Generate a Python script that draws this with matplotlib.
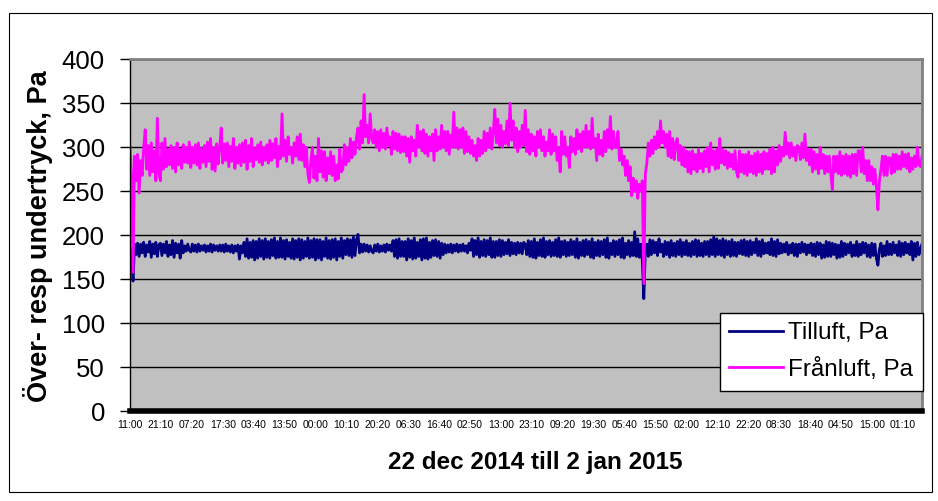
import matplotlib.pyplot as plt
from matplotlib.patches import Rectangle

# half-hourly readings from 22 dec 2014 11:00 (Pa)
franluft = [
    300, 270, 158, 290, 262, 292, 248, 285, 268, 300, 320, 275, 302, 268, 305, 272, 296, 262, 333, 270,
    262, 305, 275, 310, 278, 298, 280, 302, 276, 300, 272, 305, 280, 298, 276, 303, 283, 300, 282, 306,
    277, 300, 282, 303, 280, 305, 276, 299, 283, 302, 278, 306, 284, 310, 275, 300, 273, 304, 281, 300,
    322, 282, 304, 285, 305, 278, 301, 284, 310, 276, 300, 282, 303, 279, 305, 283, 308, 275, 302, 284,
    310, 278, 299, 286, 303, 283, 306, 280, 300, 285, 303, 282, 308, 285, 304, 288, 310, 278, 301, 287,
    338, 290, 308, 284, 312, 292, 300, 282, 305, 290, 312, 286, 315, 285, 303, 278, 300, 270, 260, 285,
    300, 265, 290, 262, 310, 272, 296, 266, 295, 262, 288, 270, 295, 268, 290, 262, 280, 264, 298, 272,
    275, 303, 280, 300, 284, 310, 288, 306, 292, 312, 322, 298, 330, 305, 360, 312, 325, 305, 338, 310,
    305, 320, 300, 318, 296, 320, 300, 316, 298, 322, 302, 312, 292, 318, 298, 316, 296, 315, 294, 312,
    295, 312, 290, 310, 283, 312, 296, 308, 290, 325, 300, 318, 296, 320, 293, 315, 290, 312, 296, 315,
    285, 320, 296, 312, 298, 325, 300, 318, 296, 318, 292, 314, 300, 340, 300, 322, 298, 320, 300, 322,
    293, 318, 295, 312, 293, 308, 290, 302, 285, 310, 290, 308, 293, 318, 296, 316, 300, 322, 298, 318,
    343, 305, 332, 302, 325, 300, 318, 304, 330, 302, 350, 308, 330, 300, 322, 295, 318, 300, 325, 302,
    342, 295, 320, 292, 315, 296, 312, 290, 318, 300, 320, 296, 312, 290, 306, 296, 320, 292, 315, 296,
    312, 285, 300, 272, 318, 292, 312, 290, 300, 277, 312, 295, 310, 292, 320, 298, 315, 295, 318, 300,
    325, 300, 318, 298, 333, 300, 310, 285, 315, 292, 308, 290, 318, 295, 320, 300, 335, 298, 318, 300,
    300, 318, 285, 298, 280, 290, 268, 285, 262, 278, 245, 265, 250, 262, 242, 258, 250, 262, 145, 270,
    282, 305, 290, 308, 293, 312, 298, 318, 300, 330, 305, 318, 300, 315, 290, 318, 288, 310, 286, 305,
    310, 285, 302, 280, 300, 278, 296, 272, 295, 270, 296, 275, 292, 272, 298, 276, 293, 272, 296, 278,
    300, 272, 305, 280, 296, 275, 298, 276, 310, 282, 298, 280, 296, 276, 294, 278, 292, 275, 296, 272,
    266, 296, 272, 292, 270, 292, 268, 295, 272, 290, 270, 293, 268, 295, 272, 292, 270, 295, 275, 293,
    275, 298, 270, 300, 272, 296, 280, 302, 284, 300, 290, 317, 292, 305, 288, 305, 290, 300, 285, 302,
    300, 286, 305, 288, 315, 285, 298, 280, 298, 272, 295, 275, 292, 270, 300, 276, 292, 270, 290, 272,
    290, 270, 252, 290, 272, 290, 270, 295, 268, 290, 270, 292, 268, 290, 266, 292, 270, 292, 268, 296,
    296, 272, 300, 270, 285, 262, 285, 262, 278, 258, 275, 255, 229, 262, 275, 290, 268, 290, 268, 288,
    288, 270, 292, 272, 292, 275, 290, 275, 295, 278, 292, 276, 293, 272, 288, 275, 290, 278, 300, 280,
    278, 290,
]

tilluft = [
    186, 180, 148, 190, 178, 191, 176, 190, 180, 192, 176, 189, 181, 193, 175, 190, 179, 192, 176, 189,
    191, 177, 190, 180, 193, 176, 189, 178, 194, 175, 191, 180, 190, 174, 194, 180, 188, 182, 190, 183,
    181, 190, 182, 189, 181, 190, 182, 188, 183, 189, 181, 188, 182, 190, 181, 189, 183, 188, 182, 189,
    182, 189, 181, 190, 182, 188, 181, 189, 180, 188, 182, 189, 173, 188, 180, 192, 176, 196, 174, 192,
    175, 194, 172, 193, 174, 196, 176, 194, 173, 196, 175, 193, 174, 195, 177, 197, 174, 193, 175, 197,
    175, 194, 173, 195, 176, 192, 174, 196, 173, 194, 175, 196, 172, 195, 174, 193, 176, 197, 174, 194,
    175, 196, 172, 195, 174, 195, 172, 193, 176, 197, 174, 194, 173, 195, 175, 196, 172, 193, 176, 197,
    174, 194, 178, 196, 177, 195, 175, 198, 177, 195, 201, 180, 190, 181, 190, 182, 189, 181, 188, 182,
    180, 189, 182, 190, 181, 188, 182, 189, 181, 190, 183, 189, 182, 194, 176, 195, 174, 196, 176, 193,
    176, 193, 172, 196, 175, 194, 173, 197, 174, 192, 176, 195, 172, 196, 174, 197, 173, 192, 175, 194,
    177, 195, 176, 193, 174, 191, 178, 190, 180, 189, 181, 190, 180, 189, 182, 190, 181, 189, 182, 190,
    182, 188, 180, 191, 183, 196, 176, 194, 178, 197, 175, 193, 177, 195, 176, 194, 178, 197, 175, 193,
    175, 193, 177, 195, 176, 194, 178, 192, 179, 195, 177, 192, 179, 191, 178, 192, 180, 191, 179, 192,
    190, 178, 194, 176, 193, 175, 196, 174, 192, 177, 195, 176, 197, 175, 193, 178, 194, 176, 192, 177,
    195, 176, 197, 175, 193, 178, 194, 176, 192, 177, 195, 178, 193, 175, 196, 174, 192, 177, 194, 176,
    195, 178, 193, 175, 196, 174, 192, 177, 194, 176, 193, 178, 195, 175, 197, 174, 191, 178, 194, 176,
    193, 178, 195, 175, 197, 174, 191, 178, 194, 176, 192, 177, 204, 176, 196, 175, 190, 172, 128, 182,
    190, 176, 195, 178, 194, 180, 192, 177, 196, 181, 190, 176, 193, 178, 192, 175, 194, 177, 191, 176,
    193, 178, 195, 176, 192, 178, 194, 177, 191, 176, 193, 178, 195, 176, 194, 177, 191, 176, 193, 178,
    193, 176, 195, 178, 198, 176, 196, 178, 194, 177, 196, 175, 194, 178, 193, 176, 195, 177, 192, 176,
    192, 179, 194, 178, 195, 177, 193, 176, 194, 178, 192, 180, 196, 177, 193, 176, 195, 179, 191, 180,
    192, 178, 196, 177, 193, 176, 195, 179, 191, 180, 190, 181, 192, 178, 189, 180, 191, 177, 190, 176,
    190, 180, 192, 181, 190, 178, 189, 180, 191, 177, 190, 176, 192, 178, 191, 174, 189, 175, 193, 176,
    192, 176, 191, 178, 190, 174, 189, 175, 193, 176, 191, 178, 190, 180, 192, 176, 189, 177, 193, 176,
    190, 178, 192, 180, 191, 176, 189, 175, 191, 177, 190, 174, 166, 184, 191, 176, 188, 177, 193, 178,
    190, 178, 192, 180, 189, 177, 193, 176, 191, 178, 192, 180, 190, 178, 193, 172, 191, 176, 192, 178,
    185, 190,
]

tick_labels = ["11:00", "21:10", "07:20", "17:30", "03:40", "13:50", "00:00",
               "10:10", "20:20", "06:30", "16:40", "02:50", "13:00", "23:10",
               "09:20", "19:30", "05:40", "15:50", "02:00", "12:10", "22:20",
               "08:30", "18:40", "04:50", "15:00", "01:10"]

# minutes since start
x_fr = [i * 30 for i in range(len(franluft))]
x_ti = [i * 30 for i in range(len(tilluft))]
tick_pos = [i * 610 for i in range(len(tick_labels))]

plt.rcParams['font.family'] = ['Liberation Sans', 'DejaVu Sans']

fig = plt.figure(figsize=(9.38, 5.01), dpi=100)
fig.patches.append(Rectangle((8.5 / 938, 9 / 501), 923 / 938, 479.5 / 501,
                             transform=fig.transFigure, fill=False,
                             edgecolor='black', linewidth=0.8))

ax = fig.add_axes([130 / 938, 1 - 411.3 / 501, 792 / 938, 352 / 501])
ax.set_facecolor('#C0C0C0')

ax.plot(x_ti, tilluft, color='#000080', linewidth=2, label='Tilluft, Pa')
ax.plot(x_fr, franluft, color='#FF00FF', linewidth=2, label='Frånluft, Pa')

ax.set_ylim(0, 400)
ax.set_xlim(0, 15630)
ax.set_yticks(range(0, 401, 50))
ax.tick_params(axis='y', labelsize=18.5, length=7, width=1, pad=11, color='black')
ax.set_xticks(tick_pos)
ax.set_xticklabels(tick_labels)
ax.tick_params(axis='x', labelsize=7.5, length=0, pad=6)
ax.yaxis.grid(True, color='black', linewidth=1)
ax.set_axisbelow(True)

for side in ['top', 'right']:
    ax.spines[side].set_color('#808080')
    ax.spines[side].set_linewidth(2)
ax.spines['left'].set_color('black')
ax.spines['left'].set_linewidth(1)
ax.spines['bottom'].set_color('black')
ax.spines['bottom'].set_linewidth(4)

fig.text(38 / 938, 1 - 236 / 501, 'Över- resp undertryck, Pa', rotation=90,
         ha='center', va='center', fontsize=19.5, fontweight='bold')
fig.text(535 / 938, 1 - 463 / 501, '22 dec 2014 till 2 jan 2015',
         ha='center', va='center', fontsize=17.5, fontweight='bold')

leg = ax.legend(loc='upper right', bbox_to_anchor=(922.5 / 938, 1 - 312.7 / 501),
                bbox_transform=fig.transFigure, fontsize=17.5, frameon=True,
                fancybox=False, edgecolor='black', framealpha=1,
                borderaxespad=0, handlelength=2.2, handletextpad=0.2,
                borderpad=0.4, labelspacing=0.55)
leg.get_frame().set_linewidth(1)

fig.savefig('out.png', dpi=100)
